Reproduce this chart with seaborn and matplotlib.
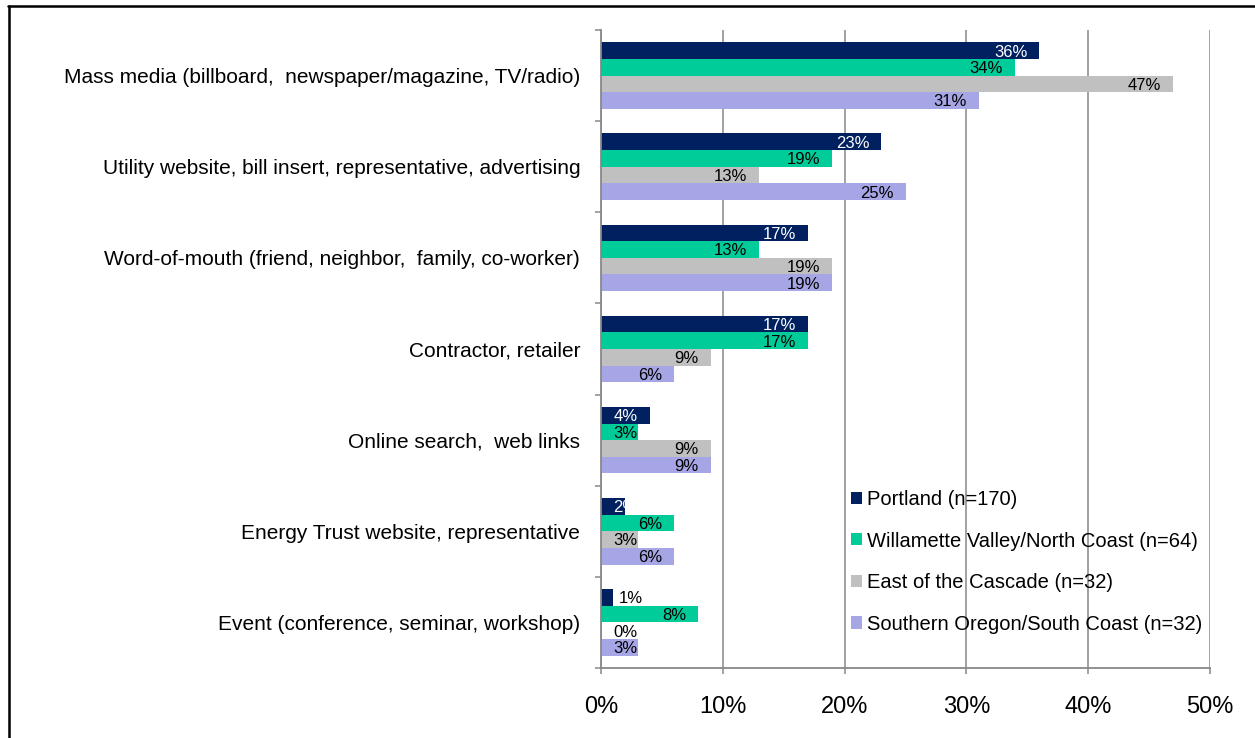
import numpy as np
import pandas as pd
import matplotlib
matplotlib.use("Agg")
import matplotlib.pyplot as plt
from matplotlib.lines import Line2D
from matplotlib.ticker import MultipleLocator, PercentFormatter
import seaborn as sns

# Where respondents heard about the program, by region (% of respondents)
categories = [
    "Mass media (billboard,  newspaper/magazine, TV/radio)",
    "Utility website, bill insert, representative, advertising",
    "Word-of-mouth (friend, neighbor,  family, co-worker)",
    "Contractor, retailer",
    "Online search,  web links",
    "Energy Trust website, representative",
    "Event (conference, seminar, workshop)",
]
regions = [
    "Portland (n=170)",
    "Willamette Valley/North Coast (n=64)",
    "East of the Cascade (n=32)",
    "Southern Oregon/South Coast (n=32)",
]
portland = [36, 23, 17, 17, 4, 2, 1]
willamette = [34, 19, 13, 17, 3, 6, 8]
east_cascade = [47, 13, 19, 9, 9, 3, 0]
southern_oregon = [31, 25, 19, 6, 9, 6, 3]

region_colors = ["#002060", "#00CC99", "#C0C0C0", "#A6A6E6"]
label_colors = ["white", "black", "black", "black"]
x_ticks = [0, 10, 20, 30, 40, 50]

series = [portland, willamette, east_cascade, southern_oregon]
df = pd.DataFrame({
    "category": np.repeat(categories, len(regions)),
    "region": regions * len(categories),
    "value": np.array(series).T.ravel(),
})

sns.set_theme(style="white")
plt.rcParams["font.family"] = ["Liberation Sans", "DejaVu Sans"]

fig = plt.figure(figsize=(12.55, 7.38), dpi=100)
ax = fig.add_axes([601 / 1255, 70 / 738, 609 / 1255, 638 / 738])

sns.barplot(
    data=df, y="category", x="value", hue="region",
    order=categories, hue_order=regions, palette=region_colors,
    saturation=1, width=0.73, orient="h", ax=ax, legend=False,
    linewidth=0,
)

ax.set_xlim(0, 50)
ax.set_ylim(len(categories) - 0.5, -0.5)
ax.set_xticks(x_ticks)
ax.xaxis.set_major_formatter(PercentFormatter(decimals=0))
ax.set_xlabel("")
ax.set_ylabel("")

grid_color = "#888888"
ax.grid(axis="x", color=grid_color, linewidth=1.1)
ax.set_axisbelow(True)
for side in ["top", "right"]:
    ax.spines[side].set_visible(False)
for side in ["left", "bottom"]:
    ax.spines[side].set_color(grid_color)
    ax.spines[side].set_linewidth(1.3)

ax.tick_params(axis="x", which="major", direction="out", length=4,
               width=1.1, color=grid_color, labelsize=17, pad=16,
               labelcolor="black", bottom=True)
ax.tick_params(axis="y", which="major", length=0, labelsize=15, pad=15,
               labelcolor="black")
ax.yaxis.set_minor_locator(MultipleLocator(1, offset=0.5))
ax.tick_params(axis="y", which="minor", direction="out", length=4,
               width=1.1, color=grid_color, left=True)

# Value labels inside the bar end, kept clear of the axis for short bars
label_size = 12
fig.canvas.draw()
renderer = fig.canvas.get_renderer()
px_to_pt = 72 / fig.dpi
x0_px = ax.transData.transform((0, 0))[0]
for container, values, tcolor in zip(ax.containers, series, label_colors):
    for bar, v in zip(container.patches, values):
        yc = bar.get_y() + bar.get_height() / 2
        text = f"{v}%"
        if 0 < v < 1.5:
            ax.annotate(text, (v, yc), xytext=(6 * px_to_pt, -1),
                        textcoords="offset points", ha="left", va="center",
                        fontsize=label_size, color="black")
            continue
        t = ax.annotate(text, (v, yc), xytext=(-12 * px_to_pt, -1),
                        textcoords="offset points", ha="right", va="center",
                        fontsize=label_size, color=tcolor)
        bb = t.get_window_extent(renderer)
        if bb.x0 < x0_px + 12:
            t.remove()
            ax.annotate(text, (0, yc), xytext=(12 * px_to_pt, -1),
                        textcoords="offset points", ha="left", va="center",
                        fontsize=label_size, color=tcolor)

handles = [plt.Rectangle((0, 0), 1, 1, facecolor=c, edgecolor="none")
           for c in region_colors]
fig.legend(handles, regions, loc="upper left",
           bbox_to_anchor=(851 / 1255, (738 - 490) / 738),
           frameon=False, fontsize=14.5, handlelength=0.55, handleheight=0.55,
           handletextpad=0.25, labelspacing=1.12, borderpad=0,
           borderaxespad=0, labelcolor="black")

# Outer frame of the chart area
fig.add_artist(Line2D([9 / 1255, 9 / 1255], [0, (738 - 6) / 738],
                      transform=fig.transFigure, color="black", linewidth=1.8))
fig.add_artist(Line2D([8 / 1255, 1], [(738 - 6) / 738, (738 - 6) / 738],
                      transform=fig.transFigure, color="black", linewidth=1.8))

fig.savefig("out.png", dpi=100, facecolor="white")
